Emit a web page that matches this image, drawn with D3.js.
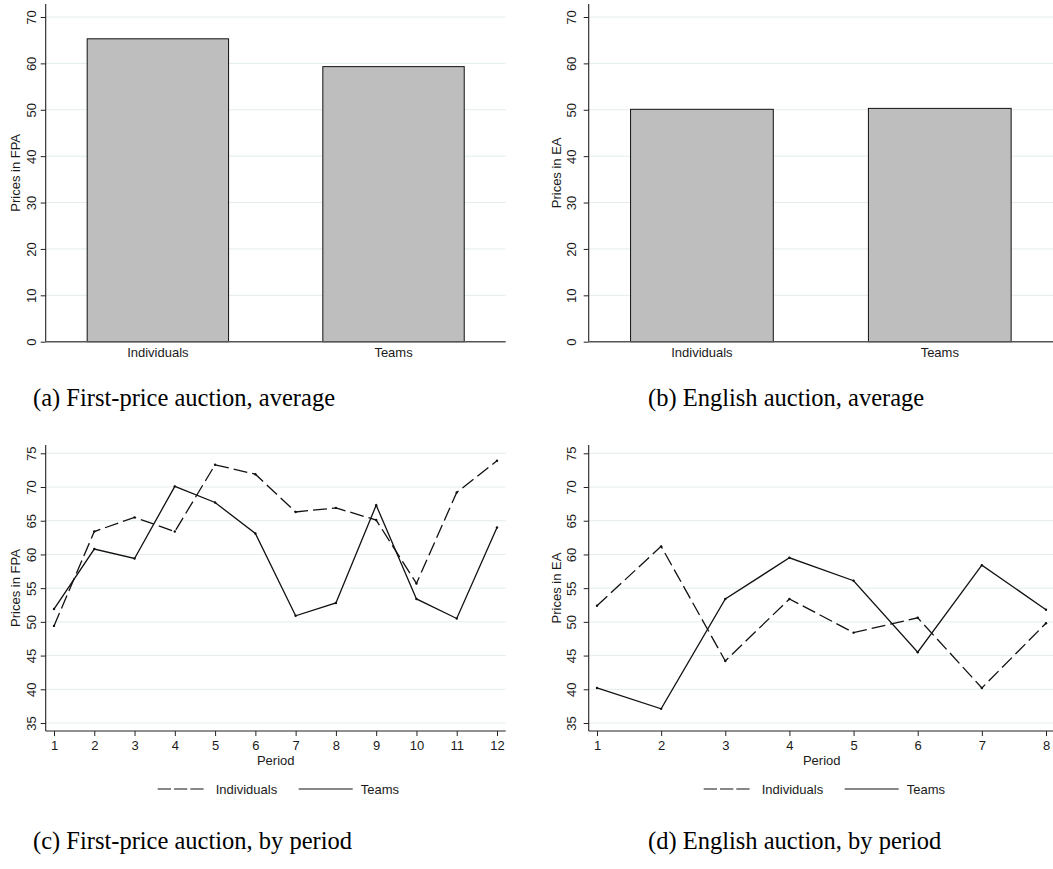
<!DOCTYPE html>
<html><head><meta charset="utf-8">
<script src="https://cdn.jsdelivr.net/npm/d3@7"></script>
<style>
html,body{margin:0;padding:0;background:#fff;}
svg{display:block;}
text{font-family:"Liberation Sans",Arial,Helvetica,sans-serif;fill:#1a1a1a;}
.cap{font-family:"Liberation Serif","Times New Roman",serif;fill:#000;}
</style></head>
<body>
<svg id="c" width="1053" height="869"></svg>
<script>
// ---- data ----
const groups = ["Individuals", "Teams"];
const fpaAverage = [65.3, 59.3];
const eaAverage = [50.1, 50.3];
const barTicks = [0, 10, 20, 30, 40, 50, 60, 70];

const fpaPeriods = [1,2,3,4,5,6,7,8,9,10,11,12];
const fpaIndividuals = [49.4, 63.4, 65.5, 63.4, 73.3, 71.9, 66.3, 66.9, 65.1, 55.7, 69.2, 73.9];
const fpaTeams = [51.9, 60.8, 59.4, 70.1, 67.7, 63.1, 50.9, 52.8, 67.3, 53.4, 50.5, 64.0];

const eaPeriods = [1,2,3,4,5,6,7,8];
const eaIndividuals = [52.4, 61.2, 44.2, 53.4, 48.4, 50.6, 40.2, 49.8];
const eaTeams = [40.2, 37.1, 53.4, 59.5, 56.1, 45.5, 58.4, 51.8];
const lineTicks = [35, 40, 45, 50, 55, 60, 65, 70, 75];

const captions = ["(a) First-price auction, average", "(b) English auction, average",
                  "(c) First-price auction, by period", "(d) English auction, by period"];
const yLabels = ["Prices in FPA", "Prices in EA"];

// ---- drawing ----
const svg = d3.select("#c");
const grid = "#e4ecee";
const axisCol = "#222";

function yAxisRot(g, y, ticks, tickOff) {
  const ax = g.append("g").call(d3.axisLeft(y).tickValues(ticks).tickSize(5).tickFormat(d3.format("d")));
  ax.select(".domain").remove();
  ax.selectAll("line").attr("stroke", axisCol);
  ax.selectAll("text").attr("x", 0).attr("y", 0).attr("dy", 0)
    .attr("text-anchor", "middle").style("font-size", "13px")
    .attr("transform", `translate(${-tickOff},0) rotate(-90)`);
  return ax;
}

function barPanel(x0, x1, values, ylabel, tickOff, labOff) {
  const g = svg.append("g");
  const y = d3.scaleLinear().domain([0, 70]).range([341.7, 17]);
  const x = d3.scaleBand().domain(groups).range([x0, x1]).paddingInner(0.4).paddingOuter(0.176);
  g.selectAll(".gl").data(barTicks.filter(d => d > 0)).join("line")
    .attr("x1", x0).attr("x2", x1).attr("y1", d => y(d)).attr("y2", d => y(d))
    .attr("stroke", grid).attr("stroke-width", 1);
  g.selectAll(".bar").data(values).join("rect")
    .attr("x", (d, i) => x(groups[i])).attr("width", x.bandwidth())
    .attr("y", d => y(d)).attr("height", d => y(0) - y(d))
    .attr("fill", "#bebebe").attr("stroke", "#111").attr("stroke-width", 1);
  g.append("g").attr("transform", `translate(${x0},0)`).call(gg => yAxisRot(gg, y, barTicks, tickOff));
  g.append("line").attr("x1", x0).attr("x2", x0).attr("y1", 4).attr("y2", y(0)).attr("stroke", axisCol).attr("stroke-width", 1.1);
  g.append("line").attr("x1", x0).attr("x2", x1).attr("y1", y(0)).attr("y2", y(0)).attr("stroke", "#555").attr("stroke-width", 1.4);
  g.selectAll(".cl").data(groups).join("text")
    .attr("x", d => x(d) + x.bandwidth() / 2).attr("y", 357)
    .attr("text-anchor", "middle").style("font-size", "13px").text(d => d);
  g.append("text").attr("transform", `translate(${x0 - labOff},${(4 + y(0)) / 2}) rotate(-90)`)
    .attr("text-anchor", "middle").style("font-size", "13px").text(ylabel);
}

function linePanel(x0, x1, periods, ind, teams, ylabel, tickOff, labOff) {
  const g = svg.append("g");
  const y = d3.scaleLinear().domain([35, 75]).range([723, 453.3]);
  const x = d3.scaleLinear().domain([1, periods.length]).range([x0 + 8.3, x1 - 8.7]);
  const yBot = 731, yTop = 445;
  g.selectAll(".gl").data(lineTicks).join("line")
    .attr("x1", x0).attr("x2", x1).attr("y1", d => y(d)).attr("y2", d => y(d))
    .attr("stroke", grid).attr("stroke-width", 1);
  g.append("g").attr("transform", `translate(${x0},0)`).call(gg => yAxisRot(gg, y, lineTicks, tickOff));
  g.append("line").attr("x1", x0).attr("x2", x0).attr("y1", yTop).attr("y2", yBot).attr("stroke", axisCol).attr("stroke-width", 1.1);
  const xa = g.append("g").attr("transform", `translate(0,${yBot})`)
    .call(d3.axisBottom(x).tickValues(periods).tickSize(5).tickFormat(d3.format("d")));
  xa.select(".domain").remove();
  xa.selectAll("line").attr("stroke", axisCol);
  xa.selectAll("text").attr("y", 18.5).attr("dy", 0).style("font-size", "13px");
  g.append("line").attr("x1", x0).attr("x2", x1).attr("y1", yBot).attr("y2", yBot).attr("stroke", axisCol).attr("stroke-width", 1.1);
  g.append("text").attr("x", (x0 + x1) / 2).attr("y", 764.5).attr("text-anchor", "middle")
    .style("font-size", "13px").text("Period");
  g.append("text").attr("transform", `translate(${x0 - labOff},${(yTop + yBot) / 2}) rotate(-90)`)
    .attr("text-anchor", "middle").style("font-size", "13px").text(ylabel);

  const line = d3.line().x((d, i) => x(periods[i])).y(d => y(d));
  const series = [{v: ind, dash: "14,5"}, {v: teams, dash: null}];
  series.forEach(s => {
    g.append("path").datum(s.v).attr("d", line).attr("fill", "none")
      .attr("stroke", "#111").attr("stroke-width", 1.3)
      .attr("stroke-dasharray", s.dash);
    g.selectAll(null).data(s.v).join("circle")
      .attr("cx", (d, i) => x(periods[i])).attr("cy", d => y(d)).attr("r", 1.2).attr("fill", "#111");
  });

  // legend
  const lc = (x0 + x1) / 2 - 118;
  const ly = 789;
  const lg = g.append("g").attr("transform", `translate(${lc},0)`);
  lg.append("line").attr("x1", 0).attr("x2", 46).attr("y1", ly).attr("y2", ly)
    .attr("stroke", "#111").attr("stroke-width", 1.2).attr("stroke-dasharray", "13.3,3");
  lg.append("text").attr("x", 58).attr("y", ly + 4.5).style("font-size", "13px").text(groups[0]);
  lg.append("line").attr("x1", 141).attr("x2", 195).attr("y1", ly).attr("y2", ly)
    .attr("stroke", "#111").attr("stroke-width", 1.2);
  lg.append("text").attr("x", 203).attr("y", ly + 4.5).style("font-size", "13px").text(groups[1]);
}

barPanel(45.7, 505.7, fpaAverage, yLabels[0], 9.5, 26);
barPanel(588.7, 1053, eaAverage, yLabels[1], 12.5, 27.5);
linePanel(45.7, 505.7, fpaPeriods, fpaIndividuals, fpaTeams, yLabels[0], 9.5, 26);
linePanel(588.7, 1054.7, eaPeriods, eaIndividuals, eaTeams, yLabels[1], 12.5, 27.5);

const capPos = [[33, 406], [648, 406], [33, 849], [648, 849]];
svg.selectAll(".cap").data(captions).join("text").attr("class", "cap")
  .attr("x", (d, i) => capPos[i][0]).attr("y", (d, i) => capPos[i][1])
  .attr("text-anchor", "start").style("font-size", "24.5px").text(d => d);
</script>
</body></html>
